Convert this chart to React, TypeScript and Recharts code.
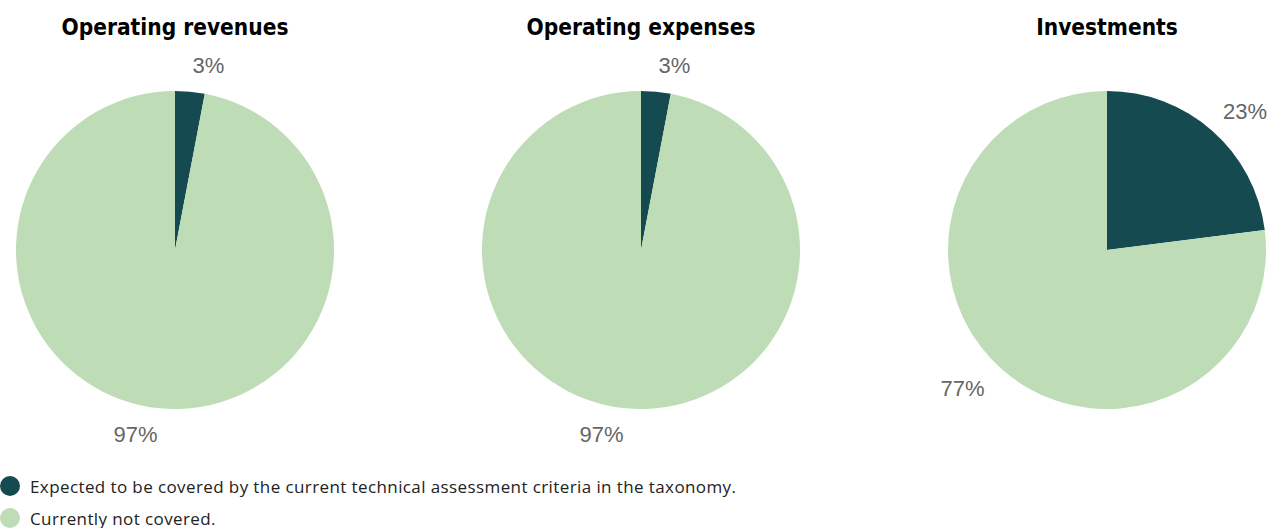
import { PieChart, Pie, Cell } from "recharts";

const categories = [
  "Expected to be covered by the current technical assessment criteria in the taxonomy.",
  "Currently not covered.",
];
const colors = ["#154a51", "#bedcb5"];
const titles = ["Operating revenues", "Operating expenses", "Investments"];
const revenues = [3, 97];
const expenses = [3, 97];
const investments = [23, 77];
const centers = [175, 641, 1107];

const series = [revenues, expenses, investments];
const RADIAN = Math.PI / 180;
const CHART_W = 1268;

const renderLabel = (props: any) => {
  const { cx, cy, midAngle, outerRadius, value } = props;
  const r = outerRadius + 26;
  let x = cx + r * Math.cos(-midAngle * RADIAN);
  const y = cy + r * Math.sin(-midAngle * RADIAN);
  let anchor: "start" | "end" = x > cx ? "start" : "end";
  // keep the label inside the chart on the right edge
  if (anchor === "start" && x + 48 > CHART_W) {
    x = CHART_W - 1;
    anchor = "end";
  }
  return (
    <text
      x={x}
      y={y}
      fill="#666"
      fontSize={22}
      fontFamily="'Liberation Sans', Arial, sans-serif"
      textAnchor={anchor}
      dominantBaseline="central"
    >
      {value}%
    </text>
  );
};

export default function App() {
  return (
    <div style={{ position: "absolute", left: 0, top: 0, width: 1268, height: 528, background: "#fff", overflow: "hidden" }}>
      {titles.map((t, i) => (
        <div
          key={t}
          style={{
            position: "absolute",
            left: centers[i] - 200,
            width: 400,
            top: 14,
            textAlign: "center",
            fontFamily: "'Liberation Sans Narrow', 'DejaVu Sans Condensed', sans-serif",
            fontStretch: "condensed",
            fontWeight: 700,
            fontSize: 22.5,
            color: "#000",
          }}
        >
          {t}
        </div>
      ))}
      <div style={{ position: "absolute", left: 0, top: 0 }}>
        <PieChart width={CHART_W} height={460} margin={{ top: 0, right: 0, bottom: 0, left: 0 }}>
          {series.map((vals, i) => (
            <Pie
              key={titles[i]}
              data={vals.map((v, j) => ({ name: categories[j], value: v }))}
              dataKey="value"
              nameKey="name"
              cx={centers[i]}
              cy={250}
              outerRadius={159}
              startAngle={90}
              endAngle={-270}
              stroke="none"
              label={renderLabel}
              labelLine={false}
              isAnimationActive={false}
            >
              {vals.map((_, j) => (
                <Cell key={j} fill={colors[j]} />
              ))}
            </Pie>
          ))}
        </PieChart>
      </div>
      <div
        style={{
          position: "absolute",
          left: 0,
          top: 470,
          width: 1000,
          fontFamily: "'Open Sans', 'Noto Sans', sans-serif",
          fontSize: 17,
          letterSpacing: 0.4,
          color: "#222",
        }}
      >
        {categories.map((c, j) => (
          <div key={c} style={{ display: "flex", alignItems: "center", height: 32, whiteSpace: "nowrap" }}>
            <span
              style={{
                flexShrink: 0,
                width: 20,
                height: 20,
                borderRadius: 10,
                background: colors[j],
                marginRight: 10,
                display: "inline-block",
              }}
            />
            {c}
          </div>
        ))}
      </div>
    </div>
  );
}
